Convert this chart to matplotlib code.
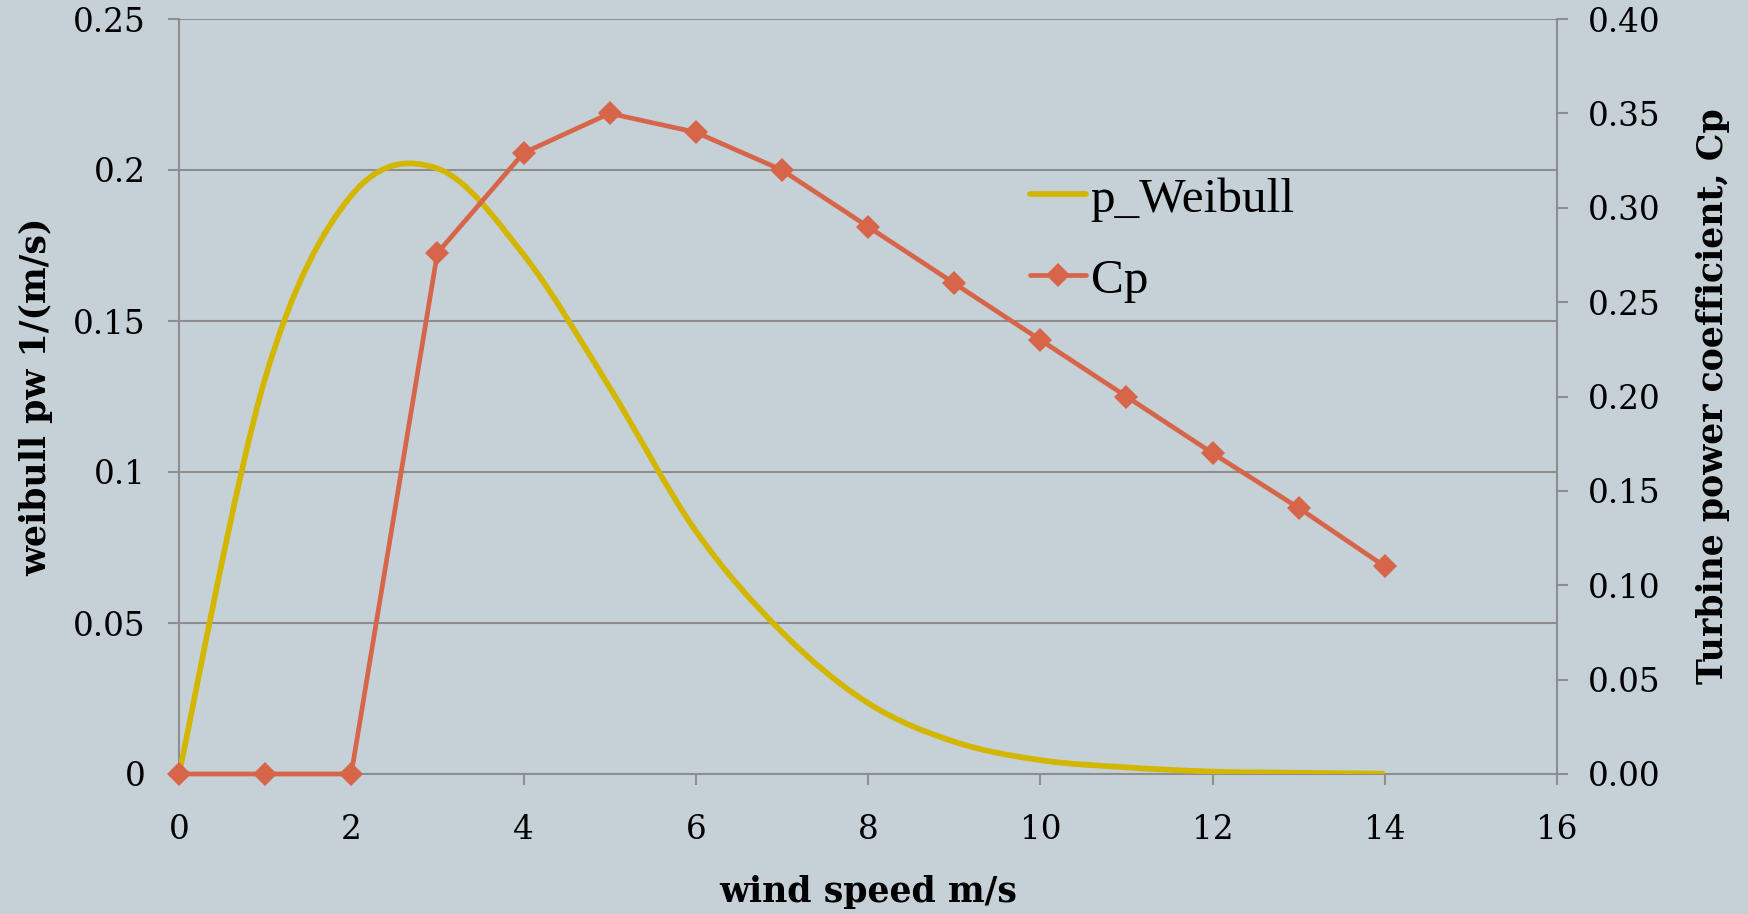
import numpy as np
import matplotlib
matplotlib.use("Agg")
import matplotlib.pyplot as plt
from matplotlib.path import Path
from matplotlib.patches import PathPatch
from matplotlib.lines import Line2D

# ---- data ----
wind_speed = [0, 1, 2, 3, 4, 5, 6, 7, 8, 9, 10, 11, 12, 13, 14]
p_weibull = [0.0, 0.131, 0.1915, 0.2005, 0.172, 0.128, 0.0805, 0.047,
             0.0235, 0.0107, 0.0046, 0.0022, 0.0008, 0.0004, 0.0001]
cp = [0.0, 0.0, 0.0, 0.276, 0.329, 0.350, 0.340, 0.320, 0.290,
      0.260, 0.230, 0.200, 0.170, 0.141, 0.110]

x_ticks = [0, 2, 4, 6, 8, 10, 12, 14, 16]
left_ticks = [0, 0.05, 0.1, 0.15, 0.2, 0.25]
left_labels = ["0", "0.05", "0.1", "0.15", "0.2", "0.25"]
right_ticks = [0, 0.05, 0.10, 0.15, 0.20, 0.25, 0.30, 0.35, 0.40]
right_labels = ["0.00", "0.05", "0.10", "0.15", "0.20", "0.25", "0.30", "0.35", "0.40"]

# ---- style ----
BG = "#C5D1D7"
GRID = "#8E8E8E"
YEL = "#D2B600"
ORG = "#D6654A"
TICKFONT = "DejaVu Serif"
W, H = 1748, 914
DPI = 100
YLW, CPLW, MS = 4.1, 3.4, 12.5

fig = plt.figure(figsize=(W / DPI, H / DPI), dpi=DPI, facecolor=BG)
L, R, T, B = 179, 1557, 19, 774
ax = fig.add_axes([L / W, 1 - B / H, (R - L) / W, (B - T) / H])
ax.set_facecolor(BG)
ax2 = ax.twinx()

ax.set_xlim(0, 16)
ax.set_ylim(0, 0.25)
ax2.set_ylim(0, 0.40)

# grid lines
ax.yaxis.grid(True, color=GRID, lw=1.5)
ax.set_axisbelow(True)
ax.spines["top"].set_visible(False)
ax2.spines["top"].set_visible(False)
ax.spines["right"].set_visible(False)
ax2.spines["left"].set_visible(False)
ax2.spines["bottom"].set_visible(False)
for sp in [ax.spines["left"], ax.spines["bottom"], ax2.spines["right"]]:
    sp.set_color(GRID)
    sp.set_linewidth(1.5)

# smooth (Excel-style) curve for Weibull via cubic Bezier segments
xs = np.array(wind_speed, dtype=float)
ys = np.array(p_weibull, dtype=float)
n = len(xs)
verts = [(xs[0], ys[0])]
codes = [Path.MOVETO]
for i in range(n - 1):
    im1 = max(i - 1, 0)
    ip2 = min(i + 2, n - 1)
    c1 = (xs[i] + (xs[i + 1] - xs[im1]) / 6, ys[i] + (ys[i + 1] - ys[im1]) / 6)
    c2 = (xs[i + 1] - (xs[ip2] - xs[i]) / 6, ys[i + 1] - (ys[ip2] - ys[i]) / 6)
    verts += [c1, c2, (xs[i + 1], ys[i + 1])]
    codes += [Path.CURVE4] * 3
path = Path(verts, codes)
ax.add_patch(PathPatch(path, facecolor="none", edgecolor=YEL, lw=YLW,
                       capstyle="butt", joinstyle="round", zorder=3))

# Cp line on secondary axis
ax2.plot(wind_speed, cp, color=ORG, lw=CPLW, marker="D", ms=MS,
         markeredgewidth=0, zorder=4, solid_joinstyle="round", clip_on=False)

# ticks
ax.set_xticks(x_ticks)
ax.set_xticklabels([str(v) for v in x_ticks])
ax.set_yticks(left_ticks)
ax.set_yticklabels(left_labels)
ax2.set_yticks(right_ticks)
ax2.set_yticklabels(right_labels)

ax.tick_params(axis="x", direction="out", length=8, width=1.5, color=GRID,
               pad=21, labelsize=23.5)
ax.tick_params(axis="y", direction="out", length=8, width=1.5, color=GRID,
               pad=16, labelsize=23.5)
ax2.tick_params(axis="y", direction="out", length=8, width=1.5, color=GRID,
                pad=14, labelsize=23.5)
for lab in ax.get_xticklabels() + ax.get_yticklabels() + ax2.get_yticklabels():
    lab.set_fontfamily(TICKFONT)

# axis titles
TS = 25
ax.set_xlabel("wind speed m/s", fontsize=TS, fontweight="bold",
              fontfamily=TICKFONT, va="center")
ax.xaxis.set_label_coords(0.5, (B - 892) / (B - T))
ax.set_ylabel("weibull pw 1/(m/s)", fontsize=TS, fontweight="bold",
              fontfamily=TICKFONT, va="center")
ax.yaxis.set_label_coords((36 - L) / (R - L), 0.5)
ax2.set_ylabel("Turbine power coefficient, Cp", fontsize=TS, fontweight="bold",
               fontfamily=TICKFONT, va="center", rotation=90)
ax2.yaxis.set_label_coords((1713 - L) / (R - L), 0.5)

# legend
handles = [Line2D([], [], color=YEL, lw=YLW, solid_capstyle="round"),
           Line2D([], [], color=ORG, lw=CPLW, marker="D", ms=MS,
                  markeredgewidth=0, solid_capstyle="round")]
leg = ax2.legend(handles, ["p_Weibull", "Cp"], loc="upper left",
                 bbox_to_anchor=(1030 / W, 1 - 177 / H),
                 bbox_transform=fig.transFigure, frameon=False,
                 prop={"family": "Liberation Serif", "size": 35.5},
                 handlelength=1.13, handletextpad=0.1, labelspacing=0.74,
                 borderpad=0, borderaxespad=0)

fig.savefig("out.png", dpi=DPI, facecolor=BG)
